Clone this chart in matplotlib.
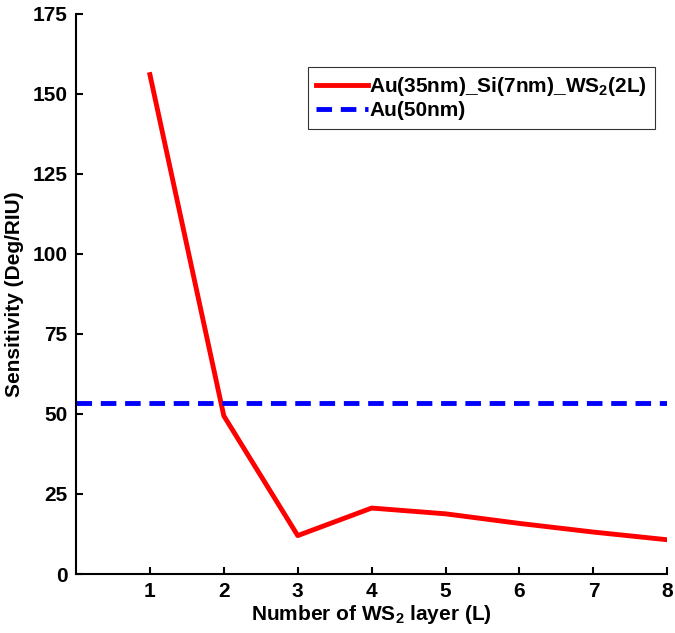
import numpy as np
import matplotlib
matplotlib.use('Agg')
import matplotlib.pyplot as plt

plt.rcParams['font.family'] = 'Liberation Sans'
plt.rcParams['font.weight'] = 'bold'
plt.rcParams['axes.labelweight'] = 'bold'
plt.rcParams['mathtext.fontset'] = 'custom'
plt.rcParams['mathtext.rm'] = 'Liberation Sans:bold'
plt.rcParams['mathtext.bf'] = 'Liberation Sans:bold'

layers = [1, 2, 3, 4, 5, 6, 7, 8]
sens_ws2 = [156, 49.4, 12, 20.6, 18.8, 15.8, 13.1, 10.7]
sens_au = 53.4

fig = plt.figure(figsize=(6.75, 6.33), dpi=100)
ax = fig.add_axes([0.1126, 0.0932, 0.876, 0.885])

ax.plot(layers, sens_ws2, color='red', lw=3.5,
        label=r'Au(35nm)_Si(7nm)_WS$_{\mathrm{2}}$(2L)')
ax.axhline(sens_au, color='blue', lw=3.5, dashes=(3.2, 1.8), label='Au(50nm)')

ax.set_xlim(0, 8)
ax.set_ylim(0, 175)
ax.set_xticks(layers)
ax.set_yticks(np.arange(0, 176, 25))
ax.tick_params(direction='in', length=5, width=1.5, labelsize=15, pad=6)
for s in ['top', 'right']:
    ax.spines[s].set_visible(False)
for s in ['left', 'bottom']:
    ax.spines[s].set_linewidth(1.5)

ax.set_xlabel(r'Number of WS$_{\mathrm{2}}$ layer (L)', fontsize=15, labelpad=1)
ax.set_ylabel('Sensitivity (Deg/RIU)', fontsize=15, labelpad=6)

leg = ax.legend(loc='upper right', bbox_to_anchor=(0.98, 0.905), fontsize=15,
                frameon=True, fancybox=False, handlelength=2.5,
                handletextpad=0.05, borderpad=0.4, labelspacing=0.15,
                borderaxespad=0)
leg.get_frame().set_edgecolor('black')
leg.get_frame().set_linewidth(0.8)

fig.savefig('out.png', dpi=100)
